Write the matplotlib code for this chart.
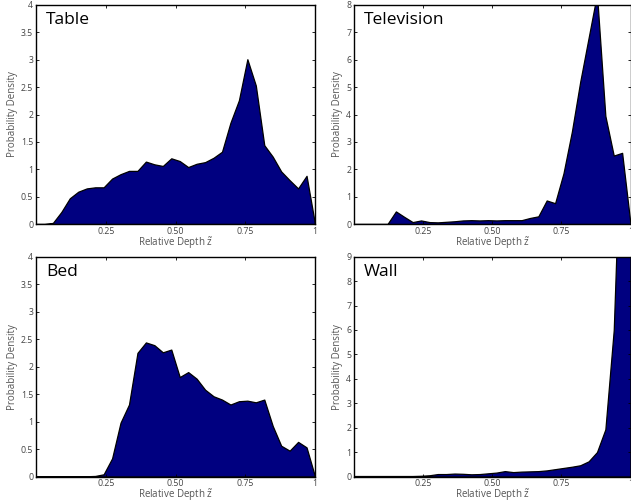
import numpy as np
import matplotlib
matplotlib.use("Agg")
import matplotlib.pyplot as plt

plt.rcParams['font.family'] = ['Open Sans', 'DejaVu Sans']
plt.rcParams['mathtext.fontset'] = 'custom'
plt.rcParams['mathtext.rm'] = 'Open Sans'

# bin positions along relative depth (34 bin edges/centres from 0 to 1)
depth = np.linspace(0, 1, 34)

table = [0, 0, 0.02, 0.22, 0.47, 0.59, 0.65, 0.67, 0.67, 0.83, 0.91, 0.97, 0.97,
         1.14, 1.09, 1.06, 1.20, 1.15, 1.04, 1.10, 1.13, 1.21, 1.32, 1.85, 2.26,
         3.01, 2.53, 1.44, 1.23, 0.96, 0.80, 0.65, 0.88, 0]
television = [0, 0, 0, 0, 0, 0.46, 0.26, 0.07, 0.13, 0.07, 0.06, 0.08, 0.10,
              0.13, 0.14, 0.13, 0.14, 0.13, 0.14, 0.14, 0.14, 0.22, 0.28, 0.86,
              0.76, 1.85, 3.37, 5.2, 6.8, 8.4, 3.95, 2.5, 2.6, 0]
bed = [0, 0, 0, 0, 0, 0, 0.005, 0.01, 0.04, 0.33, 0.98, 1.31, 2.25, 2.44, 2.39,
       2.26, 2.31, 1.81, 1.90, 1.78, 1.58, 1.46, 1.40, 1.31, 1.37, 1.38, 1.35,
       1.40, 0.92, 0.56, 0.47, 0.63, 0.53, 0]
wall = [0.02, 0.02, 0.02, 0.02, 0.02, 0.02, 0.02, 0.02, 0.03, 0.05, 0.10, 0.10,
        0.12, 0.11, 0.09, 0.10, 0.13, 0.16, 0.22, 0.18, 0.20, 0.21, 0.22, 0.25,
        0.30, 0.35, 0.40, 0.46, 0.62, 1.0, 1.93, 6.0, 16.0, 12.0]

titles = ["Table", "Television", "Bed", "Wall"]
series = [table, television, bed, wall]
ymaxes = [4, 8, 4, 9]
ytick_sets = [
    [0, 0.5, 1, 1.5, 2, 2.5, 3, 3.5, 4],
    [0, 1, 2, 3, 4, 5, 6, 7, 8],
    [0, 0.5, 1, 1.5, 2, 2.5, 3, 3.5, 4],
    [0, 1, 2, 3, 4, 5, 6, 7, 8, 9],
]
xticks = [0.25, 0.5, 0.75, 1.0]
xticklabels = ["0.25", "0.50", "0.75", "1"]

W, H = 631, 503
fig = plt.figure(figsize=(W / 100, H / 100), dpi=100)

# pixel boxes: (left, top, right, bottom)
boxes = [
    (36, 5, 315, 224),
    (354, 5, 630.5, 224),
    (36, 256.7, 315, 476.5),
    (354, 256.7, 630.5, 476.5),
]

fill_color = "#000080"
tick_color = "#444444"

for box, title, vals, ymax, yt in zip(boxes, titles, series, ymaxes, ytick_sets):
    l, t, r, b = box
    ax = fig.add_axes([l / W, 1 - b / H, (r - l) / W, (b - t) / H])
    ax.fill_between(depth, vals, 0, facecolor=fill_color, edgecolor="black",
                    linewidth=0.9)
    ax.set_xlim(0, 1)
    ax.set_ylim(0, ymax)
    ax.set_xticks(xticks)
    ax.set_xticklabels(xticklabels)
    ax.set_yticks(yt)
    ax.set_yticklabels([("%g" % v) for v in yt])
    ax.tick_params(direction="in", length=2.5, width=0.6, top=True, right=True,
                   labelsize=6.3, labelcolor=tick_color, pad=2)
    for sp in ax.spines.values():
        sp.set_linewidth(1.0)
        sp.set_color("black")
    ax.set_ylabel("Probability Density", fontsize=7, color="#555555", labelpad=2)
    ax.set_xlabel(r"Relative Depth $\tilde{\mathrm{z}}$", fontsize=7,
                  color="#555555", labelpad=-0.6)
    ax.text(0.037, 0.93, title, transform=ax.transAxes, fontsize=12.5,
            color="black", ha="left", va="center")

fig.savefig("out.png", dpi=100)
